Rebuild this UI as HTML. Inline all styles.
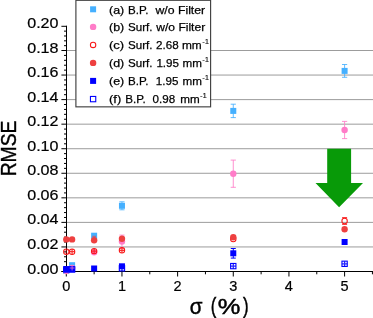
<!DOCTYPE html>
<html><head><meta charset="utf-8"><title>RMSE vs sigma</title>
<style>html,body{margin:0;padding:0;background:#fff}body{width:373px;height:318px;overflow:hidden;font-family:"Liberation Sans",sans-serif}</style>
</head><body>
<svg width="373" height="318" viewBox="0 0 373 318" style="display:block;will-change:transform">
<rect width="373" height="318" fill="#fff"/>
<line x1="67" x2="373" y1="246.94" y2="246.94" stroke="#9c9c9c" stroke-width="1"/>
<line x1="67" x2="373" y1="222.39" y2="222.39" stroke="#9c9c9c" stroke-width="1"/>
<line x1="67" x2="373" y1="197.83" y2="197.83" stroke="#9c9c9c" stroke-width="1"/>
<line x1="67" x2="373" y1="173.28" y2="173.28" stroke="#9c9c9c" stroke-width="1"/>
<line x1="67" x2="373" y1="148.72" y2="148.72" stroke="#9c9c9c" stroke-width="1"/>
<line x1="67" x2="373" y1="124.16" y2="124.16" stroke="#9c9c9c" stroke-width="1"/>
<line x1="67" x2="373" y1="99.61" y2="99.61" stroke="#9c9c9c" stroke-width="1"/>
<line x1="67" x2="373" y1="75.05" y2="75.05" stroke="#9c9c9c" stroke-width="1"/>
<line x1="67" x2="373" y1="50.50" y2="50.50" stroke="#9c9c9c" stroke-width="1"/>
<polygon points="327.2,148.8 351.1,148.8 351.1,183.0 363,183.0 339.1,207.2 315.5,183.0 327.2,183.0" fill="#089a08"/>
<line x1="66.5" x2="66.5" y1="25.8" y2="272" stroke="#000" stroke-width="1"/>
<line x1="61.5" x2="373" y1="271.5" y2="271.5" stroke="#000" stroke-width="1"/>
<line x1="61.4" x2="67" y1="271.50" y2="271.50" stroke="#000" stroke-width="1"/>
<line x1="64" x2="67" y1="266.59" y2="266.59" stroke="#000" stroke-width="1"/>
<line x1="64" x2="67" y1="261.68" y2="261.68" stroke="#000" stroke-width="1"/>
<line x1="64" x2="67" y1="256.77" y2="256.77" stroke="#000" stroke-width="1"/>
<line x1="64" x2="67" y1="251.86" y2="251.86" stroke="#000" stroke-width="1"/>
<line x1="61.4" x2="67" y1="246.94" y2="246.94" stroke="#000" stroke-width="1"/>
<line x1="64" x2="67" y1="242.03" y2="242.03" stroke="#000" stroke-width="1"/>
<line x1="64" x2="67" y1="237.12" y2="237.12" stroke="#000" stroke-width="1"/>
<line x1="64" x2="67" y1="232.21" y2="232.21" stroke="#000" stroke-width="1"/>
<line x1="64" x2="67" y1="227.30" y2="227.30" stroke="#000" stroke-width="1"/>
<line x1="61.4" x2="67" y1="222.39" y2="222.39" stroke="#000" stroke-width="1"/>
<line x1="64" x2="67" y1="217.48" y2="217.48" stroke="#000" stroke-width="1"/>
<line x1="64" x2="67" y1="212.57" y2="212.57" stroke="#000" stroke-width="1"/>
<line x1="64" x2="67" y1="207.65" y2="207.65" stroke="#000" stroke-width="1"/>
<line x1="64" x2="67" y1="202.74" y2="202.74" stroke="#000" stroke-width="1"/>
<line x1="61.4" x2="67" y1="197.83" y2="197.83" stroke="#000" stroke-width="1"/>
<line x1="64" x2="67" y1="192.92" y2="192.92" stroke="#000" stroke-width="1"/>
<line x1="64" x2="67" y1="188.01" y2="188.01" stroke="#000" stroke-width="1"/>
<line x1="64" x2="67" y1="183.10" y2="183.10" stroke="#000" stroke-width="1"/>
<line x1="64" x2="67" y1="178.19" y2="178.19" stroke="#000" stroke-width="1"/>
<line x1="61.4" x2="67" y1="173.28" y2="173.28" stroke="#000" stroke-width="1"/>
<line x1="64" x2="67" y1="168.36" y2="168.36" stroke="#000" stroke-width="1"/>
<line x1="64" x2="67" y1="163.45" y2="163.45" stroke="#000" stroke-width="1"/>
<line x1="64" x2="67" y1="158.54" y2="158.54" stroke="#000" stroke-width="1"/>
<line x1="64" x2="67" y1="153.63" y2="153.63" stroke="#000" stroke-width="1"/>
<line x1="61.4" x2="67" y1="148.72" y2="148.72" stroke="#000" stroke-width="1"/>
<line x1="64" x2="67" y1="143.81" y2="143.81" stroke="#000" stroke-width="1"/>
<line x1="64" x2="67" y1="138.90" y2="138.90" stroke="#000" stroke-width="1"/>
<line x1="64" x2="67" y1="133.99" y2="133.99" stroke="#000" stroke-width="1"/>
<line x1="64" x2="67" y1="129.08" y2="129.08" stroke="#000" stroke-width="1"/>
<line x1="61.4" x2="67" y1="124.16" y2="124.16" stroke="#000" stroke-width="1"/>
<line x1="64" x2="67" y1="119.25" y2="119.25" stroke="#000" stroke-width="1"/>
<line x1="64" x2="67" y1="114.34" y2="114.34" stroke="#000" stroke-width="1"/>
<line x1="64" x2="67" y1="109.43" y2="109.43" stroke="#000" stroke-width="1"/>
<line x1="64" x2="67" y1="104.52" y2="104.52" stroke="#000" stroke-width="1"/>
<line x1="61.4" x2="67" y1="99.61" y2="99.61" stroke="#000" stroke-width="1"/>
<line x1="64" x2="67" y1="94.70" y2="94.70" stroke="#000" stroke-width="1"/>
<line x1="64" x2="67" y1="89.79" y2="89.79" stroke="#000" stroke-width="1"/>
<line x1="64" x2="67" y1="84.87" y2="84.87" stroke="#000" stroke-width="1"/>
<line x1="64" x2="67" y1="79.96" y2="79.96" stroke="#000" stroke-width="1"/>
<line x1="61.4" x2="67" y1="75.05" y2="75.05" stroke="#000" stroke-width="1"/>
<line x1="64" x2="67" y1="70.14" y2="70.14" stroke="#000" stroke-width="1"/>
<line x1="64" x2="67" y1="65.23" y2="65.23" stroke="#000" stroke-width="1"/>
<line x1="64" x2="67" y1="60.32" y2="60.32" stroke="#000" stroke-width="1"/>
<line x1="64" x2="67" y1="55.41" y2="55.41" stroke="#000" stroke-width="1"/>
<line x1="61.4" x2="67" y1="50.50" y2="50.50" stroke="#000" stroke-width="1"/>
<line x1="64" x2="67" y1="45.66" y2="45.66" stroke="#000" stroke-width="1"/>
<line x1="64" x2="67" y1="40.82" y2="40.82" stroke="#000" stroke-width="1"/>
<line x1="64" x2="67" y1="35.98" y2="35.98" stroke="#000" stroke-width="1"/>
<line x1="64" x2="67" y1="31.14" y2="31.14" stroke="#000" stroke-width="1"/>
<line x1="61.4" x2="67" y1="26.30" y2="26.30" stroke="#000" stroke-width="1"/>
<line x1="66.30" x2="66.30" y1="271" y2="276.5" stroke="#000" stroke-width="1"/>
<line x1="94.13" x2="94.13" y1="271" y2="274.3" stroke="#000" stroke-width="1"/>
<line x1="121.96" x2="121.96" y1="271" y2="276.5" stroke="#000" stroke-width="1"/>
<line x1="149.79" x2="149.79" y1="271" y2="274.3" stroke="#000" stroke-width="1"/>
<line x1="177.62" x2="177.62" y1="271" y2="276.5" stroke="#000" stroke-width="1"/>
<line x1="205.45" x2="205.45" y1="271" y2="274.3" stroke="#000" stroke-width="1"/>
<line x1="233.28" x2="233.28" y1="271" y2="276.5" stroke="#000" stroke-width="1"/>
<line x1="261.11" x2="261.11" y1="271" y2="274.3" stroke="#000" stroke-width="1"/>
<line x1="288.94" x2="288.94" y1="271" y2="276.5" stroke="#000" stroke-width="1"/>
<line x1="316.77" x2="316.77" y1="271" y2="274.3" stroke="#000" stroke-width="1"/>
<line x1="344.60" x2="344.60" y1="271" y2="276.5" stroke="#000" stroke-width="1"/>
<line x1="372.43" x2="372.43" y1="271" y2="274.3" stroke="#000" stroke-width="1"/>
<rect x="63.30" y="268.00" width="6.0" height="6.0" fill="#45b0ff"/>
<rect x="69.09" y="262.20" width="6.0" height="6.0" fill="#45b0ff"/>
<rect x="91.13" y="232.70" width="6.0" height="6.0" fill="#45b0ff"/>
<path d="M121.96,201.80V209.80M119.36,201.80h5.2M119.36,209.80h5.2" stroke="#45b0ff" stroke-width="1" fill="none" opacity="0.85"/>
<rect x="118.96" y="202.80" width="6.0" height="6.0" fill="#45b0ff"/>
<path d="M233.28,104.20V117.60M230.68,104.20h5.2M230.68,117.60h5.2" stroke="#45b0ff" stroke-width="1" fill="none" opacity="0.85"/>
<rect x="230.28" y="107.90" width="6.0" height="6.0" fill="#45b0ff"/>
<path d="M344.60,64.50V77.30M342.00,64.50h5.2M342.00,77.30h5.2" stroke="#45b0ff" stroke-width="1" fill="none" opacity="0.85"/>
<rect x="341.60" y="67.90" width="6.0" height="6.0" fill="#45b0ff"/>
<circle cx="66.30" cy="271.00" r="3.2" fill="#ff7cc8"/>
<circle cx="72.09" cy="268.00" r="3.2" fill="#ff7cc8"/>
<circle cx="94.13" cy="252.20" r="3.2" fill="#ff7cc8"/>
<path d="M121.96,235.10V248.10M119.36,235.10h5.2M119.36,248.10h5.2" stroke="#ff7cc8" stroke-width="1" fill="none" opacity="0.85"/>
<circle cx="121.96" cy="241.60" r="3.2" fill="#ff7cc8"/>
<path d="M233.28,160.10V187.30M230.68,160.10h5.2M230.68,187.30h5.2" stroke="#ff7cc8" stroke-width="1" fill="none" opacity="0.85"/>
<circle cx="233.28" cy="173.70" r="3.2" fill="#ff7cc8"/>
<path d="M344.60,121.40V138.60M342.00,121.40h5.2M342.00,138.60h5.2" stroke="#ff7cc8" stroke-width="1" fill="none" opacity="0.85"/>
<circle cx="344.60" cy="130.00" r="3.2" fill="#ff7cc8"/>
<path d="M66.30,250.20V253.20M64.80,250.20h3.0M64.80,253.20h3.0" stroke="#f81818" stroke-width="0.9" fill="none" opacity="0.5"/>
<circle cx="66.30" cy="251.70" r="2.7" fill="none" stroke="#f81818" stroke-width="1.05"/>
<path d="M69.39,251.70h5.4M72.09,249.00v5.4" stroke="#f81818" stroke-width="1.2" fill="none" opacity="0.9"/>
<circle cx="72.09" cy="251.70" r="2.7" fill="none" stroke="#f81818" stroke-width="1.05"/>
<path d="M91.43,251.10h5.4M94.13,248.40v5.4" stroke="#f81818" stroke-width="1.2" fill="none" opacity="0.9"/>
<circle cx="94.13" cy="251.10" r="2.7" fill="none" stroke="#f81818" stroke-width="1.05"/>
<path d="M119.26,250.30h5.4M121.96,247.60v5.4" stroke="#f81818" stroke-width="1.2" fill="none" opacity="0.9"/>
<circle cx="121.96" cy="250.30" r="2.7" fill="none" stroke="#f81818" stroke-width="1.05"/>
<circle cx="233.28" cy="239.00" r="2.7" fill="none" stroke="#f81818" stroke-width="1.05"/>
<path d="M342.10,217.70h5.0M342.10,224.30h5.0" stroke="#f81818" stroke-width="1" fill="none" opacity="1"/>
<circle cx="344.60" cy="221.00" r="2.7" fill="none" stroke="#f81818" stroke-width="1.05"/>
<path d="M92.33,236.3h3.6" stroke="#ee4040" stroke-width="0.9" fill="none" opacity="0.9"/>
<circle cx="66.30" cy="239.40" r="3.2" fill="#ee4040"/>
<circle cx="72.09" cy="239.40" r="3.2" fill="#ee4040"/>
<circle cx="94.13" cy="240.20" r="3.2" fill="#ee4040"/>
<circle cx="121.96" cy="238.70" r="3.2" fill="#ee4040"/>
<circle cx="233.28" cy="237.30" r="3.2" fill="#ee4040"/>
<circle cx="344.60" cy="229.20" r="3.2" fill="#ee4040"/>
<rect x="63.30" y="266.20" width="6.0" height="6.0" fill="#0000ff"/>
<rect x="69.09" y="266.20" width="6.0" height="6.0" fill="#0000ff"/>
<rect x="91.13" y="265.50" width="6.0" height="6.0" fill="#0000ff"/>
<rect x="118.96" y="263.30" width="6.0" height="6.0" fill="#0000ff"/>
<path d="M233.28,248.50V258.10M230.78,248.50h5.0M230.78,258.10h5.0" stroke="#0000ff" stroke-width="1" fill="none" opacity="1"/>
<rect x="230.28" y="250.30" width="6.0" height="6.0" fill="#0000ff"/>
<rect x="341.60" y="239.00" width="6.0" height="6.0" fill="#0000ff"/>
<rect x="63.65" y="266.85" width="5.3" height="5.3" fill="none" stroke="#0000ff" stroke-width="1.1"/>
<rect x="69.44" y="266.85" width="5.3" height="5.3" fill="none" stroke="#0000ff" stroke-width="1.1"/>
<path d="M119.31,268.30h5.3M121.96,265.65v5.3" stroke="#0000ff" stroke-width="1.3" fill="none" opacity="0.85"/>
<rect x="119.31" y="265.65" width="5.3" height="5.3" fill="none" stroke="#0000ff" stroke-width="1.1"/>
<path d="M230.63,266.10h5.3M233.28,263.45v5.3" stroke="#0000ff" stroke-width="1.3" fill="none" opacity="0.85"/>
<rect x="230.63" y="263.45" width="5.3" height="5.3" fill="none" stroke="#0000ff" stroke-width="1.1"/>
<path d="M341.95,263.80h5.3M344.60,261.15v5.3" stroke="#0000ff" stroke-width="1.3" fill="none" opacity="0.85"/>
<rect x="341.95" y="261.15" width="5.3" height="5.3" fill="none" stroke="#0000ff" stroke-width="1.1"/>
<path d="M72.09,265.3V270.5M69.69,268h4.8" stroke="#e068d0" stroke-width="1" fill="none" opacity="0.85"/>
<rect x="75.9" y="0.3" width="134.7" height="106.55" fill="#fff" stroke="#404040" stroke-width="1.15"/>
<rect x="90.10" y="6.30" width="6.0" height="6.0" fill="#45b0ff"/>
<circle cx="93.10" cy="26.90" r="3.2" fill="#ff7cc8"/>
<circle cx="93.10" cy="44.90" r="2.7" fill="none" stroke="#f81818" stroke-width="1.05"/>
<circle cx="93.10" cy="62.90" r="3.2" fill="#ee4040"/>
<rect x="90.10" y="77.90" width="6.0" height="6.0" fill="#0000ff"/>
<rect x="90.45" y="96.45" width="5.3" height="5.3" fill="none" stroke="#0000ff" stroke-width="1.1"/>
<g style="filter:grayscale(1)">
<text x="27.2" y="273.50" font-family='"Liberation Sans", sans-serif' font-size="13.9" textLength="31.3" lengthAdjust="spacingAndGlyphs" fill="#000" stroke="#000" stroke-width="0.2">0.00</text>
<text x="27.2" y="248.94" font-family='"Liberation Sans", sans-serif' font-size="13.9" textLength="31.3" lengthAdjust="spacingAndGlyphs" fill="#000" stroke="#000" stroke-width="0.2">0.02</text>
<text x="27.2" y="224.39" font-family='"Liberation Sans", sans-serif' font-size="13.9" textLength="31.3" lengthAdjust="spacingAndGlyphs" fill="#000" stroke="#000" stroke-width="0.2">0.04</text>
<text x="27.2" y="199.83" font-family='"Liberation Sans", sans-serif' font-size="13.9" textLength="31.3" lengthAdjust="spacingAndGlyphs" fill="#000" stroke="#000" stroke-width="0.2">0.06</text>
<text x="27.2" y="175.28" font-family='"Liberation Sans", sans-serif' font-size="13.9" textLength="31.3" lengthAdjust="spacingAndGlyphs" fill="#000" stroke="#000" stroke-width="0.2">0.08</text>
<text x="27.2" y="150.72" font-family='"Liberation Sans", sans-serif' font-size="13.9" textLength="31.3" lengthAdjust="spacingAndGlyphs" fill="#000" stroke="#000" stroke-width="0.2">0.10</text>
<text x="27.2" y="126.16" font-family='"Liberation Sans", sans-serif' font-size="13.9" textLength="31.3" lengthAdjust="spacingAndGlyphs" fill="#000" stroke="#000" stroke-width="0.2">0.12</text>
<text x="27.2" y="101.61" font-family='"Liberation Sans", sans-serif' font-size="13.9" textLength="31.3" lengthAdjust="spacingAndGlyphs" fill="#000" stroke="#000" stroke-width="0.2">0.14</text>
<text x="27.2" y="77.05" font-family='"Liberation Sans", sans-serif' font-size="13.9" textLength="31.3" lengthAdjust="spacingAndGlyphs" fill="#000" stroke="#000" stroke-width="0.2">0.16</text>
<text x="27.2" y="52.50" font-family='"Liberation Sans", sans-serif' font-size="13.9" textLength="31.3" lengthAdjust="spacingAndGlyphs" fill="#000" stroke="#000" stroke-width="0.2">0.18</text>
<text x="27.2" y="27.94" font-family='"Liberation Sans", sans-serif' font-size="13.9" textLength="31.3" lengthAdjust="spacingAndGlyphs" fill="#000" stroke="#000" stroke-width="0.2">0.20</text>
<text x="66.30" y="291.3" font-family='"Liberation Sans", sans-serif' font-size="13.9" text-anchor="middle" textLength="8.1" lengthAdjust="spacingAndGlyphs" fill="#000" stroke="#000" stroke-width="0.2">0</text>
<text x="121.96" y="291.3" font-family='"Liberation Sans", sans-serif' font-size="13.9" text-anchor="middle" textLength="8.1" lengthAdjust="spacingAndGlyphs" fill="#000" stroke="#000" stroke-width="0.2">1</text>
<text x="177.62" y="291.3" font-family='"Liberation Sans", sans-serif' font-size="13.9" text-anchor="middle" textLength="8.1" lengthAdjust="spacingAndGlyphs" fill="#000" stroke="#000" stroke-width="0.2">2</text>
<text x="233.28" y="291.3" font-family='"Liberation Sans", sans-serif' font-size="13.9" text-anchor="middle" textLength="8.1" lengthAdjust="spacingAndGlyphs" fill="#000" stroke="#000" stroke-width="0.2">3</text>
<text x="288.94" y="291.3" font-family='"Liberation Sans", sans-serif' font-size="13.9" text-anchor="middle" textLength="8.1" lengthAdjust="spacingAndGlyphs" fill="#000" stroke="#000" stroke-width="0.2">4</text>
<text x="344.60" y="291.3" font-family='"Liberation Sans", sans-serif' font-size="13.9" text-anchor="middle" textLength="8.1" lengthAdjust="spacingAndGlyphs" fill="#000" stroke="#000" stroke-width="0.2">5</text>
<text transform="translate(15.9,176.3) rotate(-90)" font-family='"Liberation Sans", sans-serif' font-size="21.5" textLength="55.7" lengthAdjust="spacingAndGlyphs" fill="#000" stroke="#000" stroke-width="0.4">RMSE</text>
<text x="189.7" y="314.3" font-family='"Liberation Sans", sans-serif' font-size="22" textLength="12.71" lengthAdjust="spacingAndGlyphs" fill="#000" stroke="#000" stroke-width="0.45">σ</text>
<text x="210.8" y="313.3" font-family='"Liberation Sans", sans-serif' font-size="21.5" textLength="5.6" lengthAdjust="spacingAndGlyphs" fill="#000" stroke="#000" stroke-width="0.45">(</text>
<text x="217.8" y="314.3" font-family='"Liberation Sans", sans-serif' font-size="22.5" textLength="22.65" lengthAdjust="spacingAndGlyphs" fill="#000" stroke="#000" stroke-width="0.45">%</text>
<text x="243.0" y="313.3" font-family='"Liberation Sans", sans-serif' font-size="21.5" textLength="5.6" lengthAdjust="spacingAndGlyphs" fill="#000" stroke="#000" stroke-width="0.45">)</text>
<text x="109.0" y="13.50" font-family='"Liberation Sans", sans-serif' font-size="11.6" textLength="15.2" lengthAdjust="spacingAndGlyphs" fill="#000" stroke="#000" stroke-width="0.25">(a)</text>
<text x="128.0" y="13.50" font-family='"Liberation Sans", sans-serif' font-size="11.6" fill="#000" stroke="#000" stroke-width="0.25">B.P.</text>
<text x="155.4" y="13.50" font-family='"Liberation Sans", sans-serif' font-size="11.6" textLength="49.8" lengthAdjust="spacingAndGlyphs" fill="#000" stroke="#000" stroke-width="0.25">w/o Filter</text>
<text x="109.0" y="31.00" font-family='"Liberation Sans", sans-serif' font-size="11.6" textLength="15.2" lengthAdjust="spacingAndGlyphs" fill="#000" stroke="#000" stroke-width="0.25">(b)</text>
<text x="128.0" y="31.00" font-family='"Liberation Sans", sans-serif' font-size="11.6" fill="#000" stroke="#000" stroke-width="0.25">Surf.</text>
<text x="156.3" y="31.00" font-family='"Liberation Sans", sans-serif' font-size="11.6" textLength="48.9" lengthAdjust="spacingAndGlyphs" fill="#000" stroke="#000" stroke-width="0.25">w/o Filter</text>
<text x="109.0" y="48.90" font-family='"Liberation Sans", sans-serif' font-size="11.6" textLength="15.2" lengthAdjust="spacingAndGlyphs" fill="#000" stroke="#000" stroke-width="0.25">(c)</text>
<text x="128.0" y="48.90" font-family='"Liberation Sans", sans-serif' font-size="11.6" fill="#000" stroke="#000" stroke-width="0.25">Surf.</text>
<text x="156.0" y="48.90" font-family='"Liberation Sans", sans-serif' font-size="11.6" textLength="22.6" lengthAdjust="spacingAndGlyphs" fill="#000" stroke="#000" stroke-width="0.25">2.68</text>
<text x="181.9" y="48.90" font-family='"Liberation Sans", sans-serif' font-size="11.6" textLength="19.8" lengthAdjust="spacingAndGlyphs" fill="#000" stroke="#000" stroke-width="0.25">mm</text>
<text x="202.2" y="44.30" font-family='"Liberation Sans", sans-serif' font-size="7.6" textLength="7.0" lengthAdjust="spacingAndGlyphs" fill="#000" stroke="#000" stroke-width="0.1">-1</text>
<text x="109.0" y="66.90" font-family='"Liberation Sans", sans-serif' font-size="11.6" textLength="15.2" lengthAdjust="spacingAndGlyphs" fill="#000" stroke="#000" stroke-width="0.25">(d)</text>
<text x="128.0" y="66.90" font-family='"Liberation Sans", sans-serif' font-size="11.6" fill="#000" stroke="#000" stroke-width="0.25">Surf.</text>
<text x="156.4" y="66.90" font-family='"Liberation Sans", sans-serif' font-size="11.6" textLength="22.6" lengthAdjust="spacingAndGlyphs" fill="#000" stroke="#000" stroke-width="0.25">1.95</text>
<text x="182.6" y="66.90" font-family='"Liberation Sans", sans-serif' font-size="11.6" textLength="19.4" lengthAdjust="spacingAndGlyphs" fill="#000" stroke="#000" stroke-width="0.25">mm</text>
<text x="202.2" y="62.30" font-family='"Liberation Sans", sans-serif' font-size="7.6" textLength="7.0" lengthAdjust="spacingAndGlyphs" fill="#000" stroke="#000" stroke-width="0.1">-1</text>
<text x="109.0" y="85.00" font-family='"Liberation Sans", sans-serif' font-size="11.6" textLength="15.2" lengthAdjust="spacingAndGlyphs" fill="#000" stroke="#000" stroke-width="0.25">(e)</text>
<text x="128.0" y="85.00" font-family='"Liberation Sans", sans-serif' font-size="11.6" fill="#000" stroke="#000" stroke-width="0.25">B.P.</text>
<text x="155.8" y="85.00" font-family='"Liberation Sans", sans-serif' font-size="11.6" textLength="22.6" lengthAdjust="spacingAndGlyphs" fill="#000" stroke="#000" stroke-width="0.25">1.95</text>
<text x="182.6" y="85.00" font-family='"Liberation Sans", sans-serif' font-size="11.6" textLength="19.4" lengthAdjust="spacingAndGlyphs" fill="#000" stroke="#000" stroke-width="0.25">mm</text>
<text x="202.2" y="80.40" font-family='"Liberation Sans", sans-serif' font-size="7.6" textLength="7.0" lengthAdjust="spacingAndGlyphs" fill="#000" stroke="#000" stroke-width="0.1">-1</text>
<text x="109.0" y="103.00" font-family='"Liberation Sans", sans-serif' font-size="11.6" textLength="12.2" lengthAdjust="spacingAndGlyphs" fill="#000" stroke="#000" stroke-width="0.25">(f)</text>
<text x="125.2" y="103.00" font-family='"Liberation Sans", sans-serif' font-size="11.6" fill="#000" stroke="#000" stroke-width="0.25">B.P.</text>
<text x="152.6" y="103.00" font-family='"Liberation Sans", sans-serif' font-size="11.6" textLength="22.6" lengthAdjust="spacingAndGlyphs" fill="#000" stroke="#000" stroke-width="0.25">0.98</text>
<text x="180.2" y="103.00" font-family='"Liberation Sans", sans-serif' font-size="11.6" textLength="19.4" lengthAdjust="spacingAndGlyphs" fill="#000" stroke="#000" stroke-width="0.25">mm</text>
<text x="199.9" y="98.40" font-family='"Liberation Sans", sans-serif' font-size="7.6" textLength="7.0" lengthAdjust="spacingAndGlyphs" fill="#000" stroke="#000" stroke-width="0.1">-1</text>
</g>
</svg>
</body></html>
